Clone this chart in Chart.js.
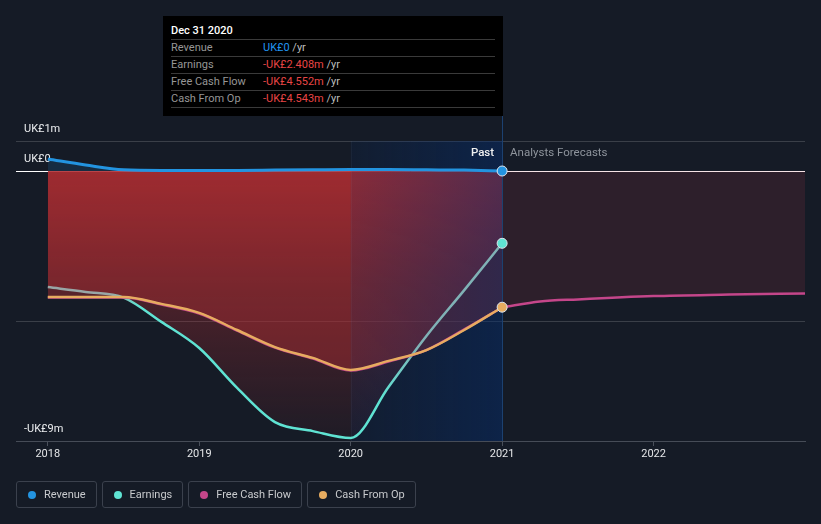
<!DOCTYPE html>
<html>
<head>
<meta charset="utf-8">
<script src="https://cdn.jsdelivr.net/npm/chart.js@4.4.1/dist/chart.umd.min.js"></script>
<style>
    html, body { margin: 0; padding: 0; background: #151b26; }
    body { width: 821px; height: 524px; overflow: hidden; position: relative; font-family: Roboto, "Noto Sans", sans-serif; }
    #wrap { position: absolute; left: 0; top: 0; width: 821px; height: 524px; }
    #tip { position: absolute; left: 163px; top: 16px; width: 340px; height: 100px; background: #000; box-sizing: border-box; padding: 0 8px; font-size: 11px; }
    #tip .t { height: 24px; line-height: 30px; box-sizing: border-box; border-bottom: 1px solid #3a3a3a; color: #fff; font-weight: 500; }
    #tip .r { height: 17px; line-height: 16px; box-sizing: border-box; border-bottom: 1px solid #3a3a3a; color: #bdbdbd; white-space: nowrap; }
    #tip .l { display: inline-block; width: 92px; color: #969696; }
    #tip .b { color: #2196f3; }
    #tip .n { color: #e84545; }
    #legend { position: absolute; left: 16px; top: 481px; display: flex; gap: 5px; }
    .item { height: 27px; box-sizing: border-box; border: 1px solid #3b414d; border-radius: 3px; padding: 0 10px 0 11px; display: flex; align-items: center; color: #c8cacd; font-size: 11px; }
    .dot { width: 8px; height: 8px; border-radius: 50%; margin-right: 8px; }
</style>
</head>
<body>
<div id="wrap"><canvas id="myChart"></canvas></div>

<div id="tip">
    <div class="t">Dec 31 2020</div>
    <div class="r"><span class="l">Revenue</span><span class="b">UK£0</span> /yr</div>
    <div class="r"><span class="l">Earnings</span><span class="n">-UK£2.408m</span> /yr</div>
    <div class="r"><span class="l">Free Cash Flow</span><span class="n">-UK£4.552m</span> /yr</div>
    <div class="r"><span class="l">Cash From Op</span><span class="n">-UK£4.543m</span> /yr</div>
</div>

<div id="legend">
    <div class="item"><span class="dot" style="background:#2394e0"></span>Revenue</div>
    <div class="item"><span class="dot" style="background:#5fe3d3"></span>Earnings</div>
    <div class="item"><span class="dot" style="background:#c4468a"></span>Free Cash Flow</div>
    <div class="item"><span class="dot" style="background:#e7ac60"></span>Cash From Op</div>
</div>

<script>
// values in UK£ millions, quarterly points
const years = [2018, 2018.25, 2018.5, 2018.75, 2019, 2019.25, 2019.5, 2019.75, 2020, 2020.25, 2020.5, 2020.75, 2021];
const revenue = [0.4, 0.2, 0.04, 0.02, 0.02, 0.02, 0.03, 0.04, 0.05, 0.05, 0.04, 0.03, 0];
const earnings = [-3.87, -4.03, -4.22, -5.03, -5.9, -7.23, -8.37, -8.67, -8.9, -7.2, -5.5, -3.97, -2.41];
const cashFromOp = [-4.2, -4.2, -4.2, -4.43, -4.73, -5.3, -5.87, -6.23, -6.63, -6.33, -5.97, -5.3, -4.54];
const freeCashFlow = [-4.22, -4.22, -4.22, -4.45, -4.75, -5.32, -5.89, -6.25, -6.65, -6.35, -5.97, -5.28, -4.55];

const forecastYears = [2021, 2021.25, 2021.5, 2022, 2022.5, 2023];
const fcfForecast = [-4.55, -4.35, -4.28, -4.17, -4.12, -4.08];

const yearTicks = [2018, 2019, 2020, 2021, 2022];
const valueTicks = [1, 0, -5, -9];
const valueTickLabels = ["UK£1m", "UK£0", "", "-UK£9m"];

const pastStart = 2020;
const pastEnd = 2021;

const toPoints = (xs, ys) => xs.map((x, i) => ({ x: x, y: ys[i] }));
const lastOnly = (ctx) => ctx.dataIndex === years.length - 1 ? 5 : 0;

const teal = "#5fe3d3";

const earningsStroke = (ctx) => {
    const chart = ctx.chart;
    if (!chart.chartArea) return teal;
    const sx = chart.scales.x;
    const x0 = sx.getPixelForValue(2018), x1 = sx.getPixelForValue(2021);
    const f = (v) => (sx.getPixelForValue(v) - x0) / (x1 - x0);
    const g = chart.ctx.createLinearGradient(x0, 0, x1, 0);
    g.addColorStop(0, "#98a6a6");
    g.addColorStop(f(2018.42), "#98a6a6");
    g.addColorStop(f(2018.6), teal);
    g.addColorStop(f(2020.2), teal);
    g.addColorStop(f(2020.45), "#80b2b6");
    g.addColorStop(1, "#80b2b6");
    return g;
};

const earningsFill = (ctx) => {
    const chart = ctx.chart;
    if (!chart.chartArea) return "rgba(175,45,50,0.4)";
    const sy = chart.scales.y;
    const y0 = sy.getPixelForValue(0), y1 = sy.getPixelForValue(-9);
    const g = chart.ctx.createLinearGradient(0, y0, 0, y1);
    g.addColorStop(0, "rgba(178,45,50,0.8)");
    g.addColorStop(0.44, "rgba(175,45,50,0.36)");
    g.addColorStop(0.92, "rgba(175,45,50,0.10)");
    g.addColorStop(1, "rgba(175,45,50,0.06)");
    return g;
};

// past highlight band, 2021 marker line and Past / Forecast labels
const decor = {
    id: "decor",
    beforeDatasetsDraw(chart) {
        const { ctx, chartArea, scales } = chart;
        const xa = scales.x.getPixelForValue(pastStart);
        const xb = scales.x.getPixelForValue(pastEnd);
        ctx.save();
        const g = ctx.createLinearGradient(xa, 0, xb, 0);
        g.addColorStop(0, "rgba(5,45,110,0.15)");
        g.addColorStop(1, "rgba(5,45,110,0.48)");
        ctx.fillStyle = g;
        ctx.fillRect(xa, chartArea.top, xb - xa, chartArea.bottom - chartArea.top);

        ctx.strokeStyle = "rgba(255,255,255,0.035)";
        ctx.lineWidth = 1;
        ctx.beginPath();
        ctx.moveTo(Math.round(xa) + 0.5, chartArea.top);
        ctx.lineTo(Math.round(xa) + 0.5, chartArea.bottom);
        ctx.stroke();

        ctx.strokeStyle = "#1c4170";
        ctx.beginPath();
        ctx.moveTo(Math.round(xb) + 0.5, 116);
        ctx.lineTo(Math.round(xb) + 0.5, chartArea.bottom);
        ctx.stroke();
        ctx.restore();
    },
    afterDraw(chart) {
        const { ctx, scales } = chart;
        const xb = scales.x.getPixelForValue(pastEnd);
        ctx.save();
        ctx.font = "500 11.5px Roboto";
        ctx.textBaseline = "middle";
        ctx.textAlign = "right";
        ctx.fillStyle = "#f0f0f0";
        ctx.fillText("Past", xb - 8, 153);
        ctx.font = "11.5px Roboto";
        ctx.textAlign = "left";
        ctx.fillStyle = "#8e949c";
        ctx.fillText("Analysts Forecasts", xb + 8, 153);
        ctx.restore();
    }
};

const ctx = document.getElementById("myChart").getContext("2d");

const myChart = new Chart(ctx, {
    type: "line",
    data: {
        datasets: [
            {
                label: "Revenue",
                data: toPoints(years, revenue),
                borderColor: "#2394e0",
                backgroundColor: "rgba(35,148,224,0.15)",
                borderWidth: 3,
                fill: "origin",
                pointRadius: lastOnly,
                pointBackgroundColor: "#2394e0",
                pointBorderColor: "#dfe6ee",
                pointBorderWidth: 1,
            },
            {
                label: "Cash From Op",
                data: toPoints(years, cashFromOp),
                borderColor: "#e7ac60",
                backgroundColor: "rgba(175,45,50,0.44)",
                borderWidth: 2.5,
                fill: "origin",
                pointRadius: lastOnly,
                pointBackgroundColor: "#e7ac60",
                pointBorderColor: "#dfe6ee",
                pointBorderWidth: 1,
            },
            {
                label: "Free Cash Flow",
                data: toPoints(years, freeCashFlow),
                borderColor: "#c4468a",
                borderWidth: 2.5,
                fill: false,
                pointRadius: 0,
            },
            {
                label: "Free Cash Flow forecast",
                data: toPoints(forecastYears, fcfForecast),
                borderColor: "#c4468a",
                backgroundColor: "rgba(190,60,75,0.14)",
                borderWidth: 2.5,
                fill: "origin",
                pointRadius: 0,
            },
            {
                label: "Earnings",
                data: toPoints(years, earnings),
                borderColor: earningsStroke,
                backgroundColor: earningsFill,
                borderWidth: 2.5,
                fill: "origin",
                pointRadius: lastOnly,
                pointBackgroundColor: teal,
                pointBorderColor: "#dfe6ee",
                pointBorderWidth: 1,
            },
        ],
    },
    options: {
        responsive: true,
        maintainAspectRatio: false,
        animation: false,
        layout: { padding: { left: 16, right: 16, top: 141, bottom: 0 } },
        elements: { line: { cubicInterpolationMode: "monotone" } },
        plugins: {
            legend: { display: false },
            tooltip: { enabled: false },
            filler: { drawTime: "beforeDatasetsDraw" },
        },
        scales: {
            x: {
                type: "linear",
                min: 2017.79,
                max: 2023,
                afterBuildTicks: (axis) => { axis.ticks = yearTicks.map(v => ({ value: v })); },
                afterFit: (axis) => { axis.height = 83; },
                grid: { drawOnChartArea: false, drawTicks: true, tickLength: 5, color: "#4a505b" },
                border: { display: true, color: "#464c57" },
                ticks: {
                    color: "#e4e6e8",
                    font: { family: "Roboto", size: 11 },
                    padding: 2,
                    maxRotation: 0,
                    callback: (v) => String(v),
                },
            },
            y: {
                min: -9,
                max: 1,
                afterBuildTicks: (axis) => { axis.ticks = valueTicks.map(v => ({ value: v })); },
                afterFit: (axis) => { axis.width = 0; },
                grid: {
                    drawTicks: false,
                    lineWidth: 1,
                    color: (c) => c.tick && c.tick.value === 0 ? "#ffffff" : "rgba(255,255,255,0.16)",
                },
                border: { display: false },
                ticks: {
                    mirror: true,
                    padding: 8,
                    labelOffset: -12,
                    color: "#eceef0",
                    font: { family: "Roboto", size: 11 },
                    callback: (v) => valueTickLabels[valueTicks.indexOf(v)] || "",
                },
            },
        },
    },
    plugins: [decor],
});
</script>
</body>
</html>
